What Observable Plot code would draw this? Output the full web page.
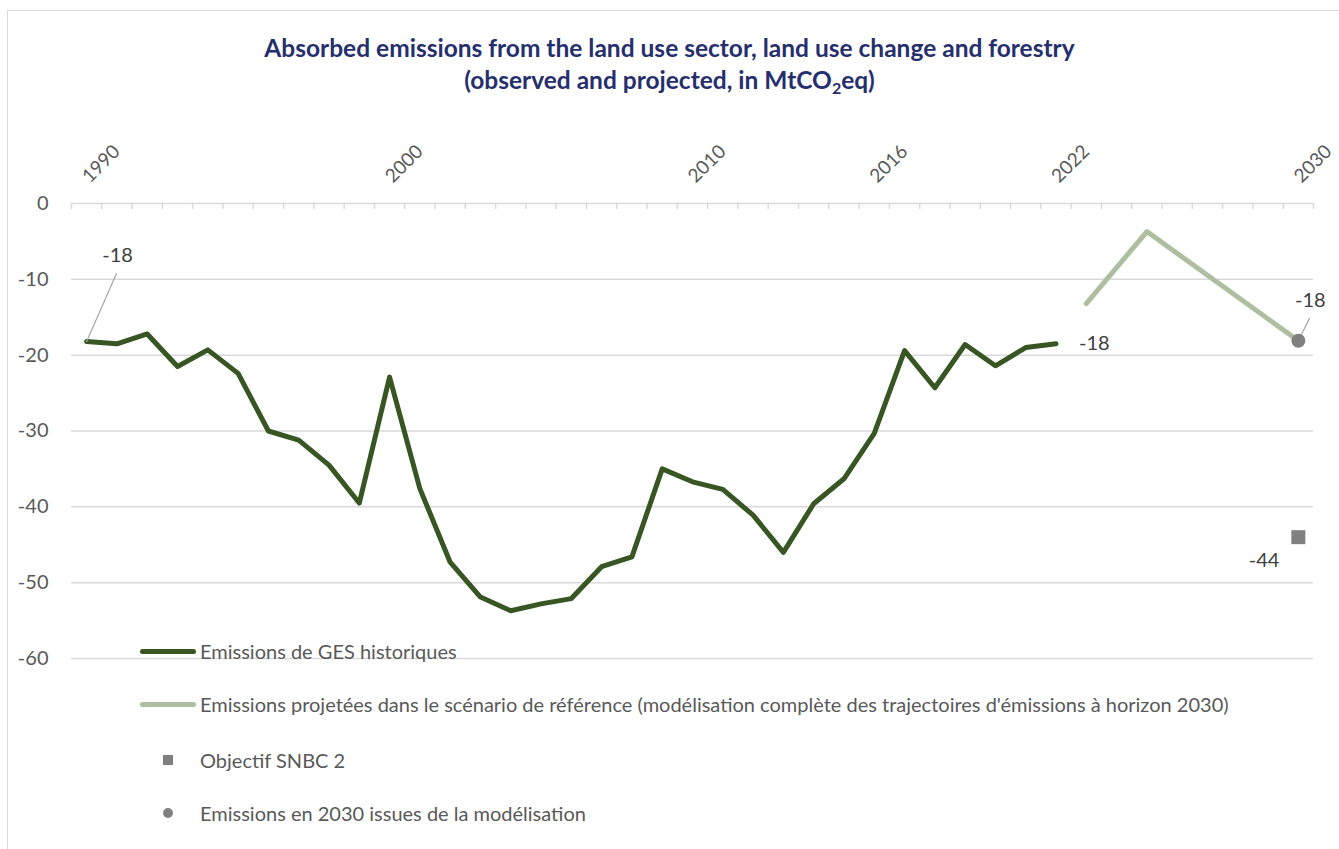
<!DOCTYPE html>
<html>
<head>
<meta charset="utf-8">
<script src="https://cdn.jsdelivr.net/npm/d3@7"></script>
<script src="https://cdn.jsdelivr.net/npm/@observablehq/plot@0.6"></script>
<style>
  body { margin: 0; background: #fff; }
  #wrap { position: relative; width: 1339px; height: 849px; overflow: hidden; font-family: Lato, "Open Sans", sans-serif; }
  #border { position: absolute; left: 7px; top: 10px; width: 1400px; height: 900px; border: 1.5px solid #d9d9d9; box-sizing: border-box; }
  #title { position: absolute; left: 0; top: 32px; width: 1339px; text-align: center; color: #262f6e; font-weight: 700; font-size: 24.5px; line-height: 32px; }
  #title sub { font-size: 16px; vertical-align: -5px; line-height: 0; }
  #chart { position: absolute; left: 0; top: 0; }
  .leg { position: absolute; left: 0; height: 30px; font-size: 20px; color: #595959; white-space: nowrap; }
  .leg .sw { position: absolute; }
  .leg .tx { position: absolute; left: 200px; top: 2px; line-height: 26px; }
</style>
</head>
<body>
<div id="wrap">
  <div id="border"></div>
  <div id="title">Absorbed emissions from the land use sector, land use change and forestry<br>(observed and projected, in MtCO<sub>2</sub>eq)</div>
  <div id="chart"></div>
</div>
<script>
// ---- Data ----
const histYears = [1990,1991,1992,1993,1994,1995,1996,1997,1998,1999,2000,2001,2002,2003,2004,2005,2006,2007,2008,2009,2010,2011,2012,2013,2014,2015,2016,2017,2018,2019,2020,2021,2022];
const histValues = [-18.2,-18.5,-17.2,-21.5,-19.3,-22.4,-30.0,-31.2,-34.5,-39.5,-22.9,-37.6,-47.3,-51.9,-53.7,-52.8,-52.1,-47.9,-46.6,-35.0,-36.7,-37.7,-41.1,-46.0,-39.6,-36.3,-30.3,-19.4,-24.3,-18.6,-21.4,-19.0,-18.5];
const projYears = [2023, 2025, 2030];
const projValues = [-13.2, -3.7, -18.1];
const targetYears = [2030];
const targetValues = [-44];
const modelYears = [2030];
const modelValues = [-18.1];
const xTickLabels = [1990, 2000, 2010, 2016, 2022, 2030];
const yTicks = [0, -10, -20, -30, -40, -50, -60];
const legendLabels = [
  "Emissions de GES historiques",
  "Emissions projetées dans le scénario de référence (modélisation complète des trajectoires d'émissions à horizon 2030)",
  "Objectif SNBC 2",
  "Emissions en 2030 issues de la modélisation"
];

// ---- Build tables ----
const hist = histYears.map((year, i) => ({year, value: histValues[i]}));
const proj = projYears.map((year, i) => ({year, value: projValues[i]}));
const target = targetYears.map((year, i) => ({year, value: targetValues[i]}));
const model = modelYears.map((year, i) => ({year, value: modelValues[i]}));
const firstYear = xTickLabels[0], lastYear = xTickLabels[xTickLabels.length - 1];
const edges = d3.range(firstYear - 0.5, lastYear + 1, 1);

const colHist = "#375623", colProj = "#adbfa0", colGrey = "#808080";
const grid = "#d9d9d9";

const chart = Plot.plot({
  width: 1339,
  height: 849,
  marginTop: 203,
  marginBottom: 191,
  marginLeft: 71,
  marginRight: 26,
  x: {domain: [firstYear - 0.5, lastYear + 0.5], axis: null},
  y: {domain: [d3.min(yTicks), d3.max(yTicks)]},
  style: {fontFamily: "Lato, 'Open Sans', sans-serif", background: "transparent", overflow: "visible"},
  marks: [
    Plot.ruleY(yTicks.filter(d => d !== 0), {stroke: grid, strokeWidth: 1.5}),
    Plot.ruleY([0], {stroke: grid, strokeWidth: 1.5}),
    Plot.ruleX(edges, {x: d => d, y1: 0, y2: 0, insetBottom: -6, stroke: grid, strokeWidth: 1.5}),
    Plot.axisY(yTicks, {anchor: "left", tickSize: 0, tickPadding: 23, fontSize: 20, color: "#595959", tickFormat: d => String(d), label: null}),
    Plot.text(xTickLabels, {x: d => d, y: 0, text: d => String(d), rotate: -45, textAnchor: "start", dx: -1, dy: -24, fontSize: 19, fill: "#595959"}),
    Plot.line(hist, {x: "year", y: "value", stroke: colHist, strokeWidth: 5, strokeLinejoin: "round", strokeLinecap: "round"}),
    Plot.line(proj, {x: "year", y: "value", stroke: colProj, strokeWidth: 5, strokeLinejoin: "round", strokeLinecap: "round"}),
    // leader lines
    Plot.vector([hist[0]], {x: "year", y: "value", length: 74, rotate: 23.7, anchor: "start", r: 0, stroke: "#a6a6a6", strokeWidth: 1.2}),
    Plot.vector(model, {x: "year", y: "value", length: 25, rotate: 26.5, anchor: "start", r: 0, stroke: "#a6a6a6", strokeWidth: 1.2}),
    Plot.dot(target, {x: "year", y: "value", symbol: "square", r: 7.9, fill: colGrey}),
    Plot.dot(model, {x: "year", y: "value", r: 7, fill: colGrey}),
    // data labels
    Plot.text([hist[0]], {x: "year", y: "value", text: d => String(Math.round(d.value)), dx: 31, dy: -86, fontSize: 20, fill: "#404040"}),
    Plot.text([hist[hist.length - 1]], {x: "year", y: "value", text: d => String(Math.round(d.value)), dx: 23, textAnchor: "start", fontSize: 20, fill: "#404040"}),
    Plot.text(model, {x: "year", y: "value", text: d => String(Math.round(d.value)), dx: 12, dy: -40, fontSize: 20, fill: "#404040"}),
    Plot.text(target, {x: "year", y: "value", text: d => String(Math.round(d.value)), dx: -19, dy: 23, textAnchor: "end", fontSize: 20, fill: "#404040"})
  ]
});
document.getElementById("chart").appendChild(chart);

// ---- Legend (HTML) ----
const legendRows = [651, 704, 760, 813];
const swatches = [
  {type: "line", color: colHist},
  {type: "line", color: colProj},
  {type: "square", color: colGrey},
  {type: "circle", color: colGrey}
];
const wrap = document.getElementById("wrap");
legendLabels.forEach((lab, i) => {
  const row = document.createElement("div");
  row.className = "leg";
  row.style.top = (legendRows[i] - 15) + "px";
  row.style.width = "1339px";
  const sw = document.createElement("div");
  sw.className = "sw";
  const s = swatches[i];
  if (s.type === "line") {
    Object.assign(sw.style, {left: "140px", top: "12.5px", width: "56px", height: "5px", borderRadius: "2.5px", background: s.color});
  } else if (s.type === "square") {
    Object.assign(sw.style, {left: "163px", top: "10px", width: "10px", height: "10px", background: s.color});
  } else {
    Object.assign(sw.style, {left: "163px", top: "10px", width: "10px", height: "10px", borderRadius: "50%", background: s.color});
  }
  const tx = document.createElement("div");
  tx.className = "tx";
  tx.textContent = lab;
  row.appendChild(sw);
  row.appendChild(tx);
  wrap.appendChild(row);
});
</script>
</body>
</html>
